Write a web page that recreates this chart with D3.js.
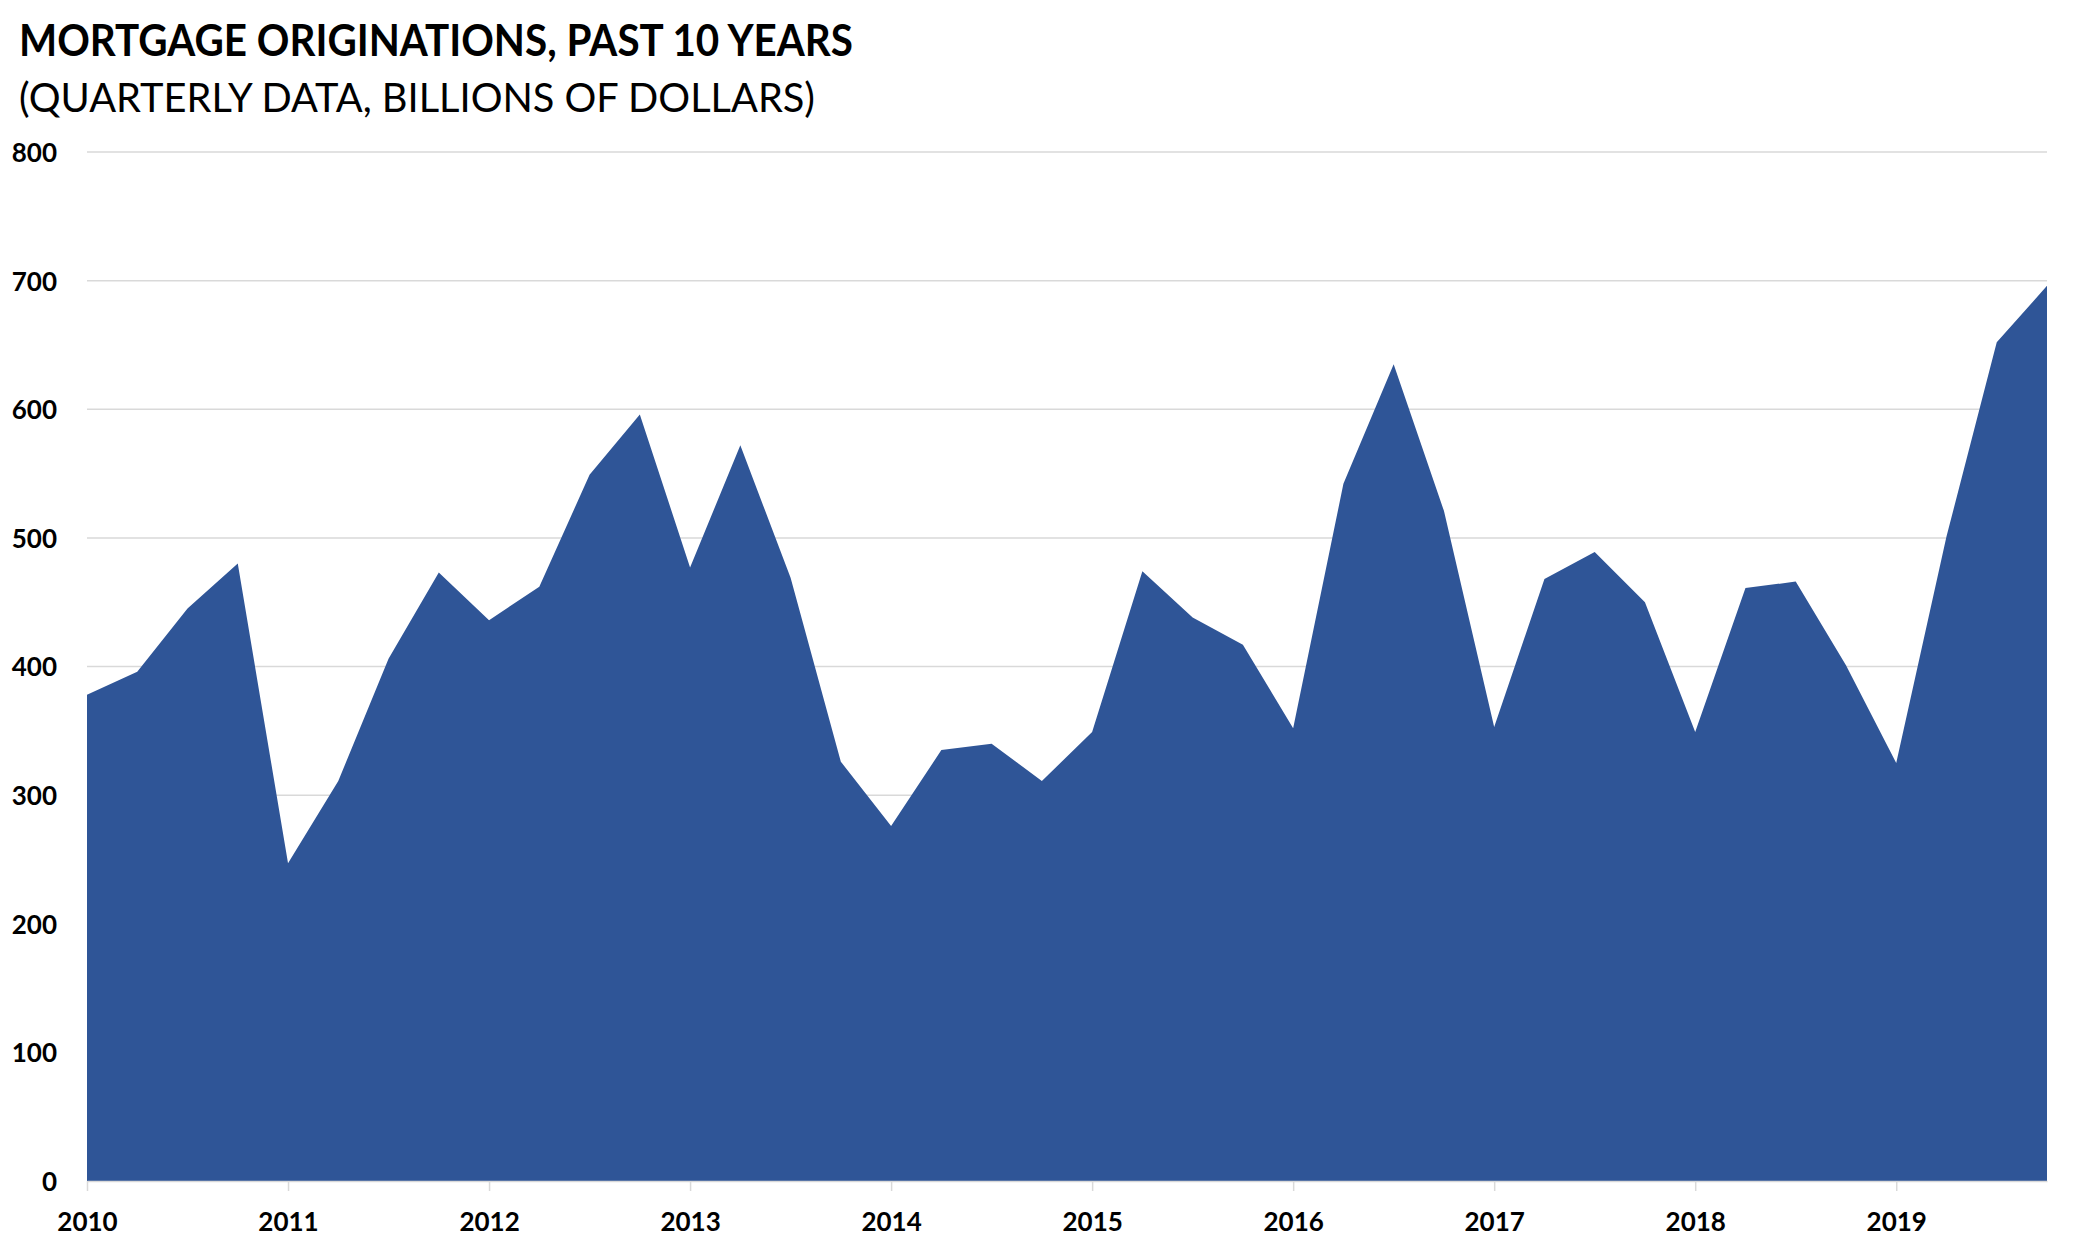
<!DOCTYPE html>
<html>
<head>
<meta charset="utf-8">
<script src="https://d3js.org/d3.v7.min.js"></script>
<style>
    body { margin: 0; background: #ffffff; }
    text { font-family: Lato, "Open Sans", sans-serif; fill: #000000; }
</style>
</head>
<body>
<script>
// quarterly originations, 2010 Q1 .. 2019 Q4 (billions of dollars)
let years = [2010, 2011, 2012, 2013, 2014, 2015, 2016, 2017, 2018, 2019];
let values = [378, 396, 445, 480, 247, 311, 406, 473,
              436, 462, 549, 596, 477, 572, 469, 326,
              276, 335, 340, 311, 349, 474, 438, 417,
              352, 542, 635, 521, 353, 468, 489, 450,
              349, 461, 466, 401, 325, 501, 652, 696];
let yTicks = [0, 100, 200, 300, 400, 500, 600, 700, 800];

let title = "MORTGAGE ORIGINATIONS, PAST 10 YEARS";
let subtitle = "(QUARTERLY DATA, BILLIONS OF DOLLARS)";


window.onload = function() {
    let w = 2094;
    let h = 1250;
    let margins = {top: 152, bottom: h - 1181, left: 87, right: w - 2047};

    let svg = d3.select("body")
                .append("svg")
                .attr("width", w)
                .attr("height", h);

    // quarter index -> x, year ticks sit on every 4th quarter
    let x = d3.scaleLinear()
              .domain([0, values.length - 1])
              .range([margins.left, w - margins.right]);

    let y = d3.scaleLinear()
              .domain([0, 800])
              .range([h - margins.bottom, margins.top]);

    // title block
    svg.append("text")
       .attr("x", 19)
       .attr("y", 56)
       .attr("textLength", 834)
       .attr("lengthAdjust", "spacingAndGlyphs")
       .style("font-size", "43px")
       .style("font-weight", "bold")
       .text(title);

    svg.append("text")
       .attr("x", 19)
       .attr("y", 112)
       .attr("textLength", 796)
       .attr("lengthAdjust", "spacingAndGlyphs")
       .style("font-size", "40px")
       .text(subtitle);

    // horizontal gridlines
    svg.append("g")
       .selectAll("line")
       .data(yTicks.slice(1))
       .enter()
       .append("line")
       .attr("x1", margins.left)
       .attr("x2", w - margins.right)
       .attr("y1", d => y(d))
       .attr("y2", d => y(d))
       .style("stroke", "#d9d9d9")
       .style("stroke-width", 1.5);

    // area
    let area = d3.area()
                 .x((d, i) => x(i))
                 .y0(y(0))
                 .y1(d => y(d));

    svg.append("path")
       .datum(values)
       .attr("d", area)
       .style("fill", "#2f5597");

    // y axis labels
    let yAxis = d3.axisLeft(y)
                  .tickValues(yTicks)
                  .tickSize(0)
                  .tickPadding(30);

    let gy = svg.append("g")
                .attr("transform", "translate(" + margins.left + ",0)")
                .call(yAxis);
    gy.select(".domain").remove();
    gy.selectAll("text")
      .style("font-size", "26px")
      .style("font-weight", "bold")
      .attr("dy", "0.36em");

    // x axis with year ticks
    let xAxis = d3.axisBottom(x)
                  .tickValues(years.map((d, i) => i * 4))
                  .tickFormat((d, i) => years[i])
                  .tickSizeInner(10)
                  .tickSizeOuter(0)
                  .tickPadding(22);

    let gx = svg.append("g")
                .attr("transform", "translate(0," + y(0) + ")")
                .call(xAxis);
    gx.select(".domain")
      .style("stroke", "#d9d9d9")
      .style("stroke-width", 1.5);
    gx.selectAll(".tick line")
      .style("stroke", "#d9d9d9")
      .style("stroke-width", 1.5);
    gx.selectAll("text")
      .style("font-size", "26px")
      .style("font-weight", "bold");
};
</script>
</body>
</html>
